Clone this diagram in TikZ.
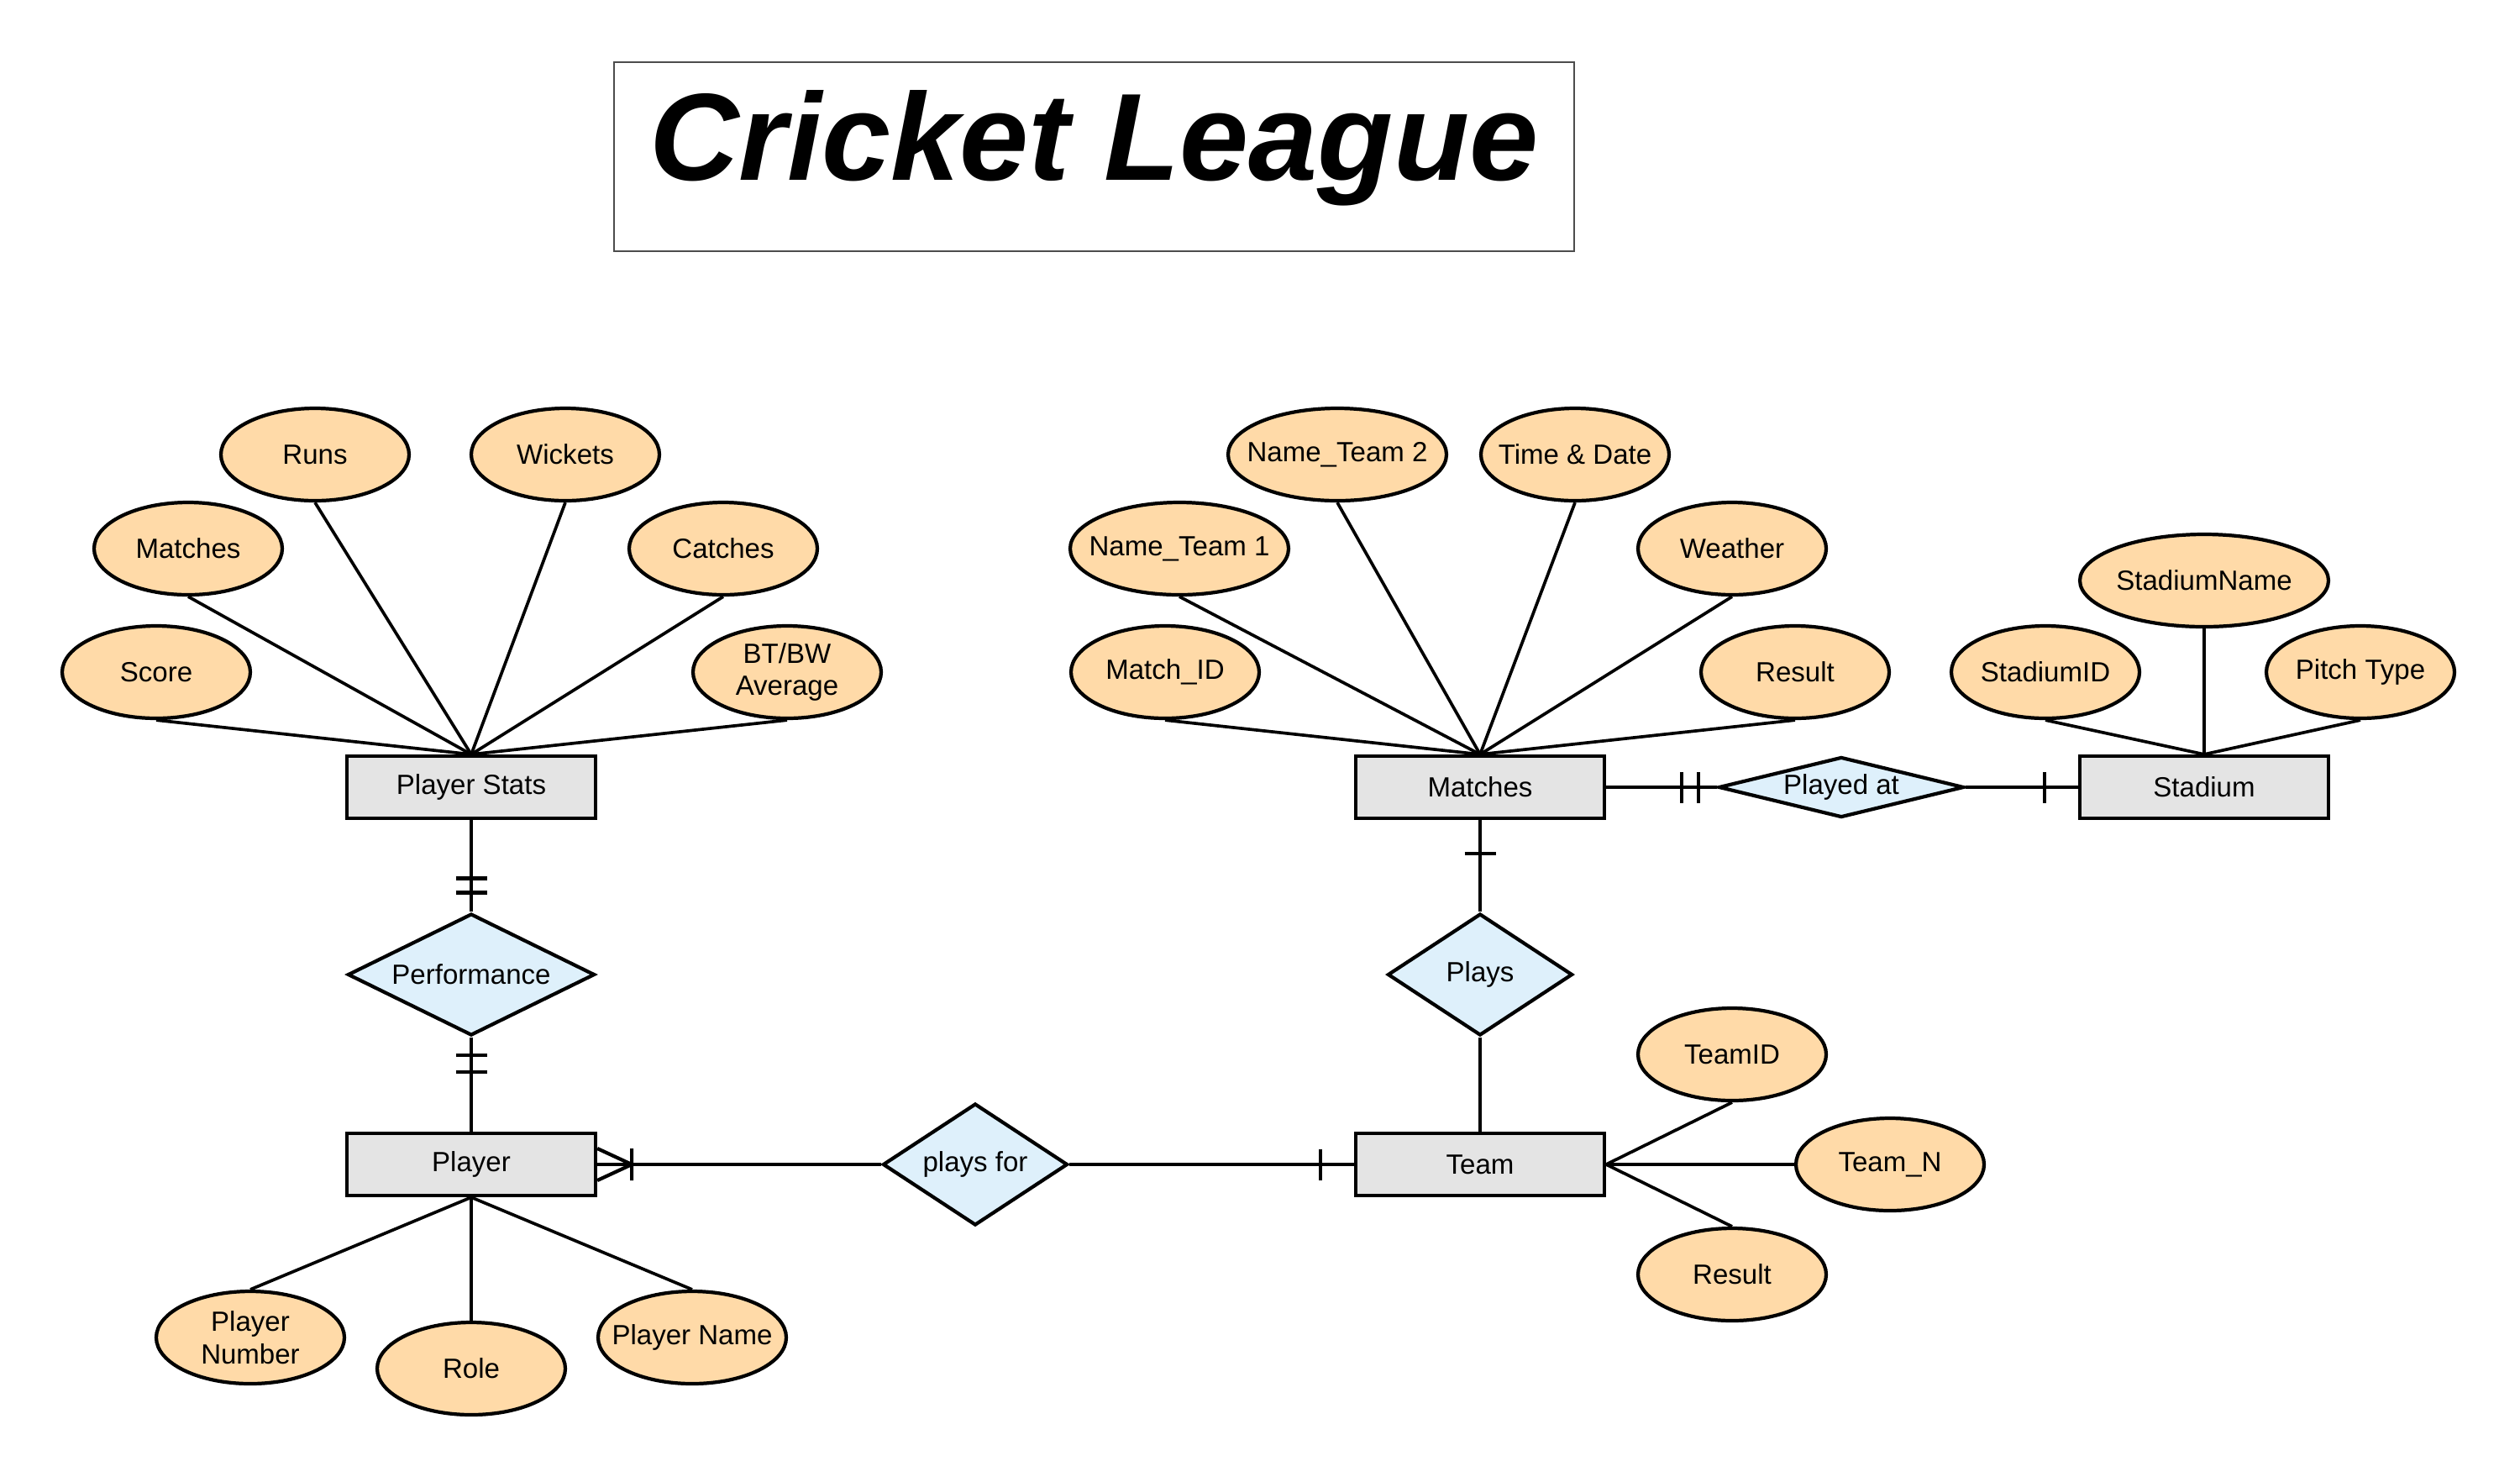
\documentclass[tikz,border=0pt]{standalone}
\usepackage{fontspec}
\setmainfont{Liberation Sans}
\usetikzlibrary{shapes.geometric, decorations.markings}
\definecolor{entfill}{HTML}{E4E4E4}
\definecolor{attfill}{HTML}{FFDAA8}
\definecolor{relfill}{HTML}{DEF0FB}

\begin{document}
\begin{tikzpicture}[every node/.style={font=\fontsize{9.4}{11}\selectfont},
    entity/.style={draw, line width=1.2pt, fill=entfill, minimum width=2.96cm, minimum height=0.74cm, inner sep=0pt},
    attr/.style={draw, ellipse, line width=1.2pt, fill=attfill, minimum width=2.24cm, minimum height=1.10cm, inner xsep=-0.2cm, inner ysep=0pt, align=center},
    rel/.style={draw, diamond, line width=1.2pt, fill=relfill, inner sep=0pt},
    attline/.style={line width=1.05pt},
    relline/.style={line width=1.2pt},
    onemark/.style={postaction={decorate, decoration={markings,
        mark=at position #1 with {\draw[line width=1.2pt] (0,-0.185) -- (0,0.185);}}}},
    crowmark/.style={postaction={decorate, decoration={markings,
        mark=at position #1 with {\draw[line width=1.2pt] (0,-0.19) -- (0,0.19) (-0.41,0.19) -- (0,0) -- (-0.41,-0.19);}}}}]
    \useasboundingbox (0,0) rectangle (30,-17.63);

    % title
    \node[draw=black!70, line width=0.4pt, minimum width=11.43cm, minimum height=2.25cm, text depth=0.5cm, font=\fontsize{42}{50}\selectfont\bfseries\itshape] (title) at (13.025,-1.865) {Cricket League};

    % entities
    \node[entity] (pstats) at (5.61,-9.37) {Player Stats};
    \node[entity] (matches) at (17.62,-9.37) {Matches};
    \node[entity] (stadium) at (26.24,-9.37) {Stadium};
    \node[entity] (player) at (5.61,-13.86) {Player};
    \node[entity] (team) at (17.62,-13.86) {Team};

    % relationships
    \node[rel, aspect=2, minimum width=2.94cm, minimum height=1.45cm] (perf) at (5.61,-11.60) {Performance};
    \node[rel, aspect=1.5, minimum width=2.20cm, minimum height=1.45cm] (plays) at (17.62,-11.60) {Plays};
    \node[rel, aspect=1.5, minimum width=2.20cm, minimum height=1.45cm] (playsfor) at (11.61,-13.86) {plays for};
    \node[rel, aspect=4, minimum width=2.92cm, minimum height=0.72cm] (playedat) at (21.92,-9.37) {Played at};

    % attributes of Player Stats
    \node[attr] (runs) at (3.75,-5.41) {Runs};
    \node[attr] (wickets) at (6.73,-5.41) {Wickets};
    \node[attr] (smatches) at (2.24,-6.53) {Matches};
    \node[attr] (catches) at (8.61,-6.53) {Catches};
    \node[attr] (score) at (1.86,-8.00) {Score};
    \node[attr] (btbw) at (9.37,-8.00) {BT/BW\\Average};

    % attributes of Matches
    \node[attr, minimum width=2.60cm] (nteam2) at (15.92,-5.41) {Name\_Team 2};
    \node[attr] (timedate) at (18.75,-5.41) {Time \& Date};
    \node[attr, minimum width=2.60cm] (nteam1) at (14.04,-6.53) {Name\_Team 1};
    \node[attr] (weather) at (20.62,-6.53) {Weather};
    \node[attr] (matchid) at (13.87,-8.00) {Match\_ID};
    \node[attr] (mresult) at (21.37,-8.00) {Result};

    % attributes of Stadium
    \node[attr, minimum width=2.96cm] (stname) at (26.24,-6.91) {StadiumName};
    \node[attr] (stid) at (24.35,-8.00) {StadiumID};
    \node[attr] (pitch) at (28.10,-8.00) {Pitch Type};

    % attributes of Team
    \node[attr] (teamid) at (20.62,-12.55) {TeamID};
    \node[attr] (teamn) at (22.50,-13.86) {Team\_N};
    \node[attr] (tresult) at (20.62,-15.17) {Result};

    % attributes of Player
    \node[attr] (pnum) at (2.98,-15.92) {Player\\Number};
    \node[attr] (role) at (5.61,-16.29) {Role};
    \node[attr] (pname) at (8.24,-15.92) {Player Name};

    % attribute lines
    \draw[attline] (score.south) -- (pstats.north);
    \draw[attline] (smatches.south) -- (pstats.north);
    \draw[attline] (runs.south) -- (pstats.north);
    \draw[attline] (wickets.south) -- (pstats.north);
    \draw[attline] (catches.south) -- (pstats.north);
    \draw[attline] (btbw.south) -- (pstats.north);
    \draw[attline] (matchid.south) -- (matches.north);
    \draw[attline] (nteam1.south) -- (matches.north);
    \draw[attline] (nteam2.south) -- (matches.north);
    \draw[attline] (timedate.south) -- (matches.north);
    \draw[attline] (weather.south) -- (matches.north);
    \draw[attline] (mresult.south) -- (matches.north);
    \draw[attline] (stid.south) -- (stadium.north);
    \draw[attline] (stname.south) -- (stadium.north);
    \draw[attline] (pitch.south) -- (stadium.north);
    \draw[attline] (team.east) -- (teamid.south);
    \draw[attline] (team.east) -- (teamn.west);
    \draw[attline] (team.east) -- (tresult.north);
    \draw[attline] (player.south) -- (pnum.north);
    \draw[attline] (player.south) -- (role.north);
    \draw[attline] (player.south) -- (pname.north);

    % relationship lines
    \draw[relline, onemark=-0.23cm, onemark=-0.40cm] (pstats) -- (perf);
    \draw[relline, onemark=0.21cm, onemark=0.41cm] (perf) -- (player);
    \draw[relline, crowmark=0.41cm] (player) -- (playsfor);
    \draw[relline, onemark=-0.40cm] (playsfor) -- (team);
    \draw[relline, onemark=0.40cm] (matches) -- (plays);
    \draw[relline] (plays) -- (team);
    \draw[relline, onemark=-0.22cm, onemark=-0.42cm] (matches) -- (playedat);
    \draw[relline, onemark=-0.40cm] (playedat) -- (stadium);
\end{tikzpicture}
\end{document}
